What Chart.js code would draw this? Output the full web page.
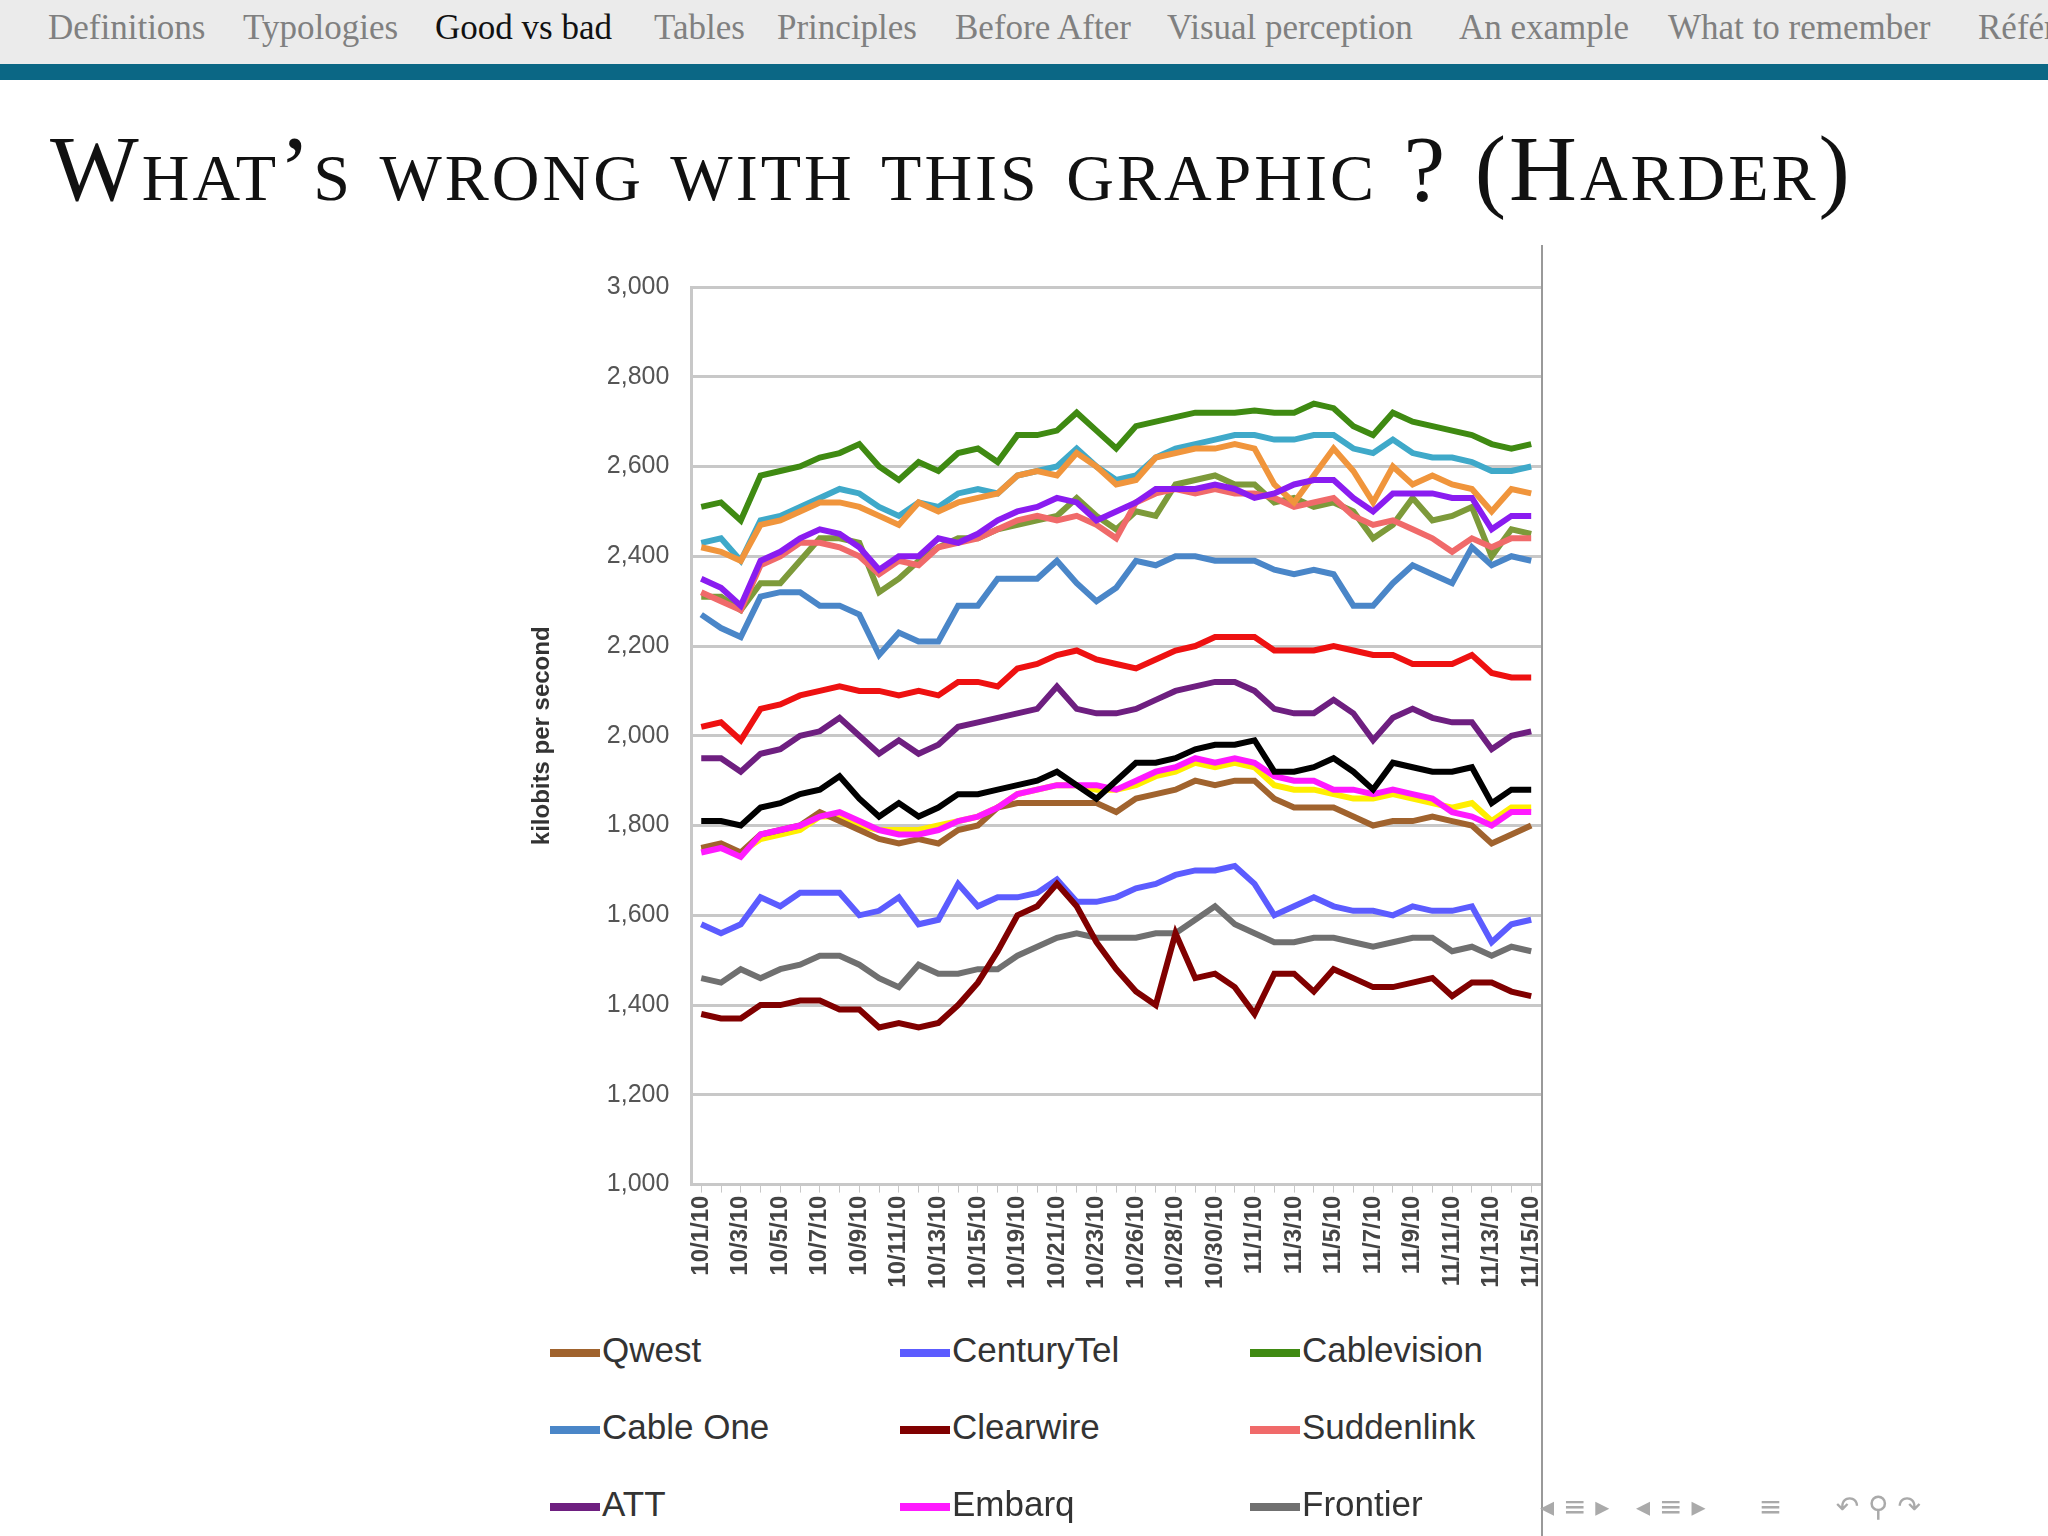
<!DOCTYPE html>
<html>
<head>
<meta charset="utf-8">
<script src="https://cdn.jsdelivr.net/npm/chart.js@4"></script>
<style>
  body { margin: 0; width: 2048px; height: 1536px; background: #fff; overflow: hidden; position: relative; font-family: "DejaVu Serif", serif; }
  #nav { position: absolute; left: 0; top: 0; width: 2048px; height: 64px; background: #ebebeb; white-space: nowrap; }
  #nav span { position: absolute; top: 8px; font-family: "Liberation Serif", serif; font-size: 35px; color: #808080; }
  #nav span.cur { color: #111; }
  #bar { position: absolute; left: 0; top: 64px; width: 2048px; height: 16px; background: #0b6785; }
  #title { position: absolute; left: 50px; top: 114px; font-family: "Liberation Serif", serif; font-size: 94px; font-variant: small-caps; color: #111; letter-spacing: 3px; }
  #wrap { position: absolute; left: 500px; top: 250px; width: 1063px; height: 1042px; }
  #vline { position: absolute; left: 1541px; top: 245px; width: 2px; height: 1291px; background: #999; }
  #legend { position: absolute; left: 550px; top: 1330px; width: 1000px; }
  .li { position: absolute; font-family: "Liberation Sans", sans-serif; font-size: 35px; color: #333; }
  .li i { display: inline-block; width: 50px; height: 8px; vertical-align: middle; margin-right: 2px; }
  #icons { position: absolute; left: 1540px; top: 1490px; font-size: 28px; color: #aaa; font-family: "DejaVu Sans"; }
</style>
</head>
<body>
<div id="nav">
  <span style="left:48px">Definitions</span>
  <span style="left:243px">Typologies</span>
  <span class="cur" style="left:435px">Good vs bad</span>
  <span style="left:654px">Tables</span>
  <span style="left:777px">Principles</span>
  <span style="left:955px">Before After</span>
  <span style="left:1167px">Visual perception</span>
  <span style="left:1459px">An example</span>
  <span style="left:1668px">What to remember</span>
  <span style="left:1978px">Références</span>
</div>
<div id="bar"></div>
<div id="title">What’s wrong with this graphic ? (Harder)</div>
<div id="wrap"><canvas id="c"></canvas></div>
<div id="vline"></div>
<div id="legend"></div>
<div id="icons">◂ ≡ ▸ &nbsp; ◂ ≡ ▸ &nbsp;&nbsp;&nbsp;&nbsp; ≡ &nbsp;&nbsp;&nbsp;&nbsp; ↶ ⚲ ↷</div>
<script>
const dates = ["10/1/10","10/2/10","10/3/10","10/4/10","10/5/10","10/6/10","10/7/10","10/8/10","10/9/10","10/10/10",
  "10/11/10","10/12/10","10/13/10","10/14/10","10/15/10","10/18/10","10/19/10","10/20/10","10/21/10","10/22/10",
  "10/23/10","10/25/10","10/26/10","10/27/10","10/28/10","10/29/10","10/30/10","10/31/10","11/1/10","11/2/10",
  "11/3/10","11/4/10","11/5/10","11/6/10","11/7/10","11/8/10","11/9/10","11/10/10","11/11/10","11/12/10",
  "11/13/10","11/14/10","11/15/10"];

const cablevision = [2510,2520,2480,2580,2590,2600,2620,2630,2650,2600,2570,2610,2590,2630,2640,2610,2670,2670,2680,2720,2680,2640,2690,2700,2710,2720,2720,2720,2725,2720,2720,2740,2730,2690,2670,2720,2700,2690,2680,2670,2650,2640,2650];
const tealSeries = [2430,2440,2390,2480,2490,2510,2530,2550,2540,2510,2490,2520,2510,2540,2550,2540,2580,2590,2600,2640,2600,2570,2580,2620,2640,2650,2660,2670,2670,2660,2660,2670,2670,2640,2630,2660,2630,2620,2620,2610,2590,2590,2600];
const orangeSeries = [2420,2410,2390,2470,2480,2500,2520,2520,2510,2490,2470,2520,2500,2520,2530,2540,2580,2590,2580,2630,2600,2560,2570,2620,2630,2640,2640,2650,2640,2560,2520,2580,2640,2590,2520,2600,2560,2580,2560,2550,2500,2550,2540];
const violetSeries = [2350,2330,2290,2390,2410,2440,2460,2450,2420,2370,2400,2400,2440,2430,2450,2480,2500,2510,2530,2520,2480,2500,2520,2550,2550,2550,2560,2550,2530,2540,2560,2570,2570,2530,2500,2540,2540,2540,2530,2530,2460,2490,2490];
const suddenlink = [2320,2300,2280,2380,2400,2430,2430,2420,2400,2360,2390,2380,2420,2430,2440,2460,2480,2490,2480,2490,2470,2440,2520,2540,2550,2540,2550,2540,2540,2530,2510,2520,2530,2490,2470,2480,2460,2440,2410,2440,2420,2440,2440];
const oliveSeries = [2310,2310,2280,2340,2340,2390,2440,2440,2430,2320,2350,2390,2420,2440,2440,2460,2470,2480,2490,2530,2490,2460,2500,2490,2560,2570,2580,2560,2560,2520,2530,2510,2520,2500,2440,2470,2530,2480,2490,2510,2400,2460,2450];
const cableOne = [2270,2240,2220,2310,2320,2320,2290,2290,2270,2180,2230,2210,2210,2290,2290,2350,2350,2350,2390,2340,2300,2330,2390,2380,2400,2400,2390,2390,2390,2370,2360,2370,2360,2290,2290,2340,2380,2360,2340,2420,2380,2400,2390];
const redSeries = [2020,2030,1990,2060,2070,2090,2100,2110,2100,2100,2090,2100,2090,2120,2120,2110,2150,2160,2180,2190,2170,2160,2150,2170,2190,2200,2220,2220,2220,2190,2190,2190,2200,2190,2180,2180,2160,2160,2160,2180,2140,2130,2130];
const att = [1950,1950,1920,1960,1970,2000,2010,2040,2000,1960,1990,1960,1980,2020,2030,2040,2050,2060,2110,2060,2050,2050,2060,2080,2100,2110,2120,2120,2100,2060,2050,2050,2080,2050,1990,2040,2060,2040,2030,2030,1970,2000,2010];
const blackSeries = [1810,1810,1800,1840,1850,1870,1880,1910,1860,1820,1850,1820,1840,1870,1870,1880,1890,1900,1920,1890,1860,1900,1940,1940,1950,1970,1980,1980,1990,1920,1920,1930,1950,1920,1880,1940,1930,1920,1920,1930,1850,1880,1880];
const yellowSeries = [1750,1750,1740,1770,1780,1790,1820,1820,1800,1790,1790,1790,1800,1810,1820,1840,1870,1880,1890,1890,1880,1880,1890,1910,1920,1940,1930,1940,1930,1890,1880,1880,1870,1860,1860,1870,1860,1850,1840,1850,1810,1840,1840];
const embarq = [1740,1750,1730,1780,1790,1800,1820,1830,1810,1790,1780,1780,1790,1810,1820,1840,1870,1880,1890,1890,1890,1880,1900,1920,1930,1950,1940,1950,1940,1910,1900,1900,1880,1880,1870,1880,1870,1860,1830,1820,1800,1830,1830];
const qwest = [1750,1760,1740,1780,1790,1800,1830,1810,1790,1770,1760,1770,1760,1790,1800,1840,1850,1850,1850,1850,1850,1830,1860,1870,1880,1900,1890,1900,1900,1860,1840,1840,1840,1820,1800,1810,1810,1820,1810,1800,1760,1780,1800];
const centuryTel = [1580,1560,1580,1640,1620,1650,1650,1650,1600,1610,1640,1580,1590,1670,1620,1640,1640,1650,1680,1630,1630,1640,1660,1670,1690,1700,1700,1710,1670,1600,1620,1640,1620,1610,1610,1600,1620,1610,1610,1620,1540,1580,1590];
const frontier = [1460,1450,1480,1460,1480,1490,1510,1510,1490,1460,1440,1490,1470,1470,1480,1480,1510,1530,1550,1560,1550,1550,1550,1560,1560,1590,1620,1580,1560,1540,1540,1550,1550,1540,1530,1540,1550,1550,1520,1530,1510,1530,1520];
const clearwire = [1380,1370,1370,1400,1400,1410,1410,1390,1390,1350,1360,1350,1360,1400,1450,1520,1600,1620,1670,1620,1540,1480,1430,1400,1560,1460,1470,1440,1380,1470,1470,1430,1480,1460,1440,1440,1450,1460,1420,1450,1450,1430,1420];

const series = [
  { label: "Qwest", data: qwest, color: "#a0632e", legend: true },
  { label: "CenturyTel", data: centuryTel, color: "#5c5cff", legend: true },
  { label: "Cablevision", data: cablevision, color: "#3f8a12", legend: true },
  { label: "Cable One", data: cableOne, color: "#4a86c8", legend: true },
  { label: "Clearwire", data: clearwire, color: "#800000", legend: true },
  { label: "Suddenlink", data: suddenlink, color: "#f06a6a", legend: true },
  { label: "ATT", data: att, color: "#6e1f80", legend: true },
  { label: "Embarq", data: embarq, color: "#ff1aff", legend: true },
  { label: "Frontier", data: frontier, color: "#707070", legend: true },
  { label: "Other 1", data: tealSeries, color: "#3fa9c9" },
  { label: "Other 2", data: orangeSeries, color: "#f0953c" },
  { label: "Other 3", data: oliveSeries, color: "#7d9a3a" },
  { label: "Other 4", data: yellowSeries, color: "#ffee00" },
  { label: "Other 5", data: redSeries, color: "#ee1111" },
  { label: "Other 6", data: blackSeries, color: "#000000" },
  { label: "Other 7", data: violetSeries, color: "#8a1cf0" },
];
// draw order: yellow under magenta/brown like the original
const drawOrder = ["Other 4","Qwest","Embarq","Other 3","Suddenlink","Other 1","Other 2","Cablevision","Other 7","Cable One","Other 5","ATT","Other 6","CenturyTel","Frontier","Clearwire"];

const chart = new Chart(document.getElementById("c"), {
  type: "line",
  data: {
    labels: dates,
    datasets: series.map(s => ({
      label: s.label, data: s.data, borderColor: s.color, backgroundColor: s.color,
      borderWidth: 6, pointRadius: 0, tension: 0, order: -drawOrder.indexOf(s.label),
    })),
  },
  options: {
    responsive: true, maintainAspectRatio: false, animation: false,
    layout: { padding: { top: 10, right: 0 } },
    plugins: { legend: { display: false }, tooltip: { enabled: false } },
    scales: {
      y: {
        min: 1000, max: 3000,
        ticks: { stepSize: 200, color: "#555", font: { family: "Liberation Sans", size: 25 }, padding: 22,
          callback: v => v.toLocaleString("en-US") },
        grid: { color: "#c8c8c8", lineWidth: 3, drawTicks: false },
        border: { color: "#c8c8c8", width: 3 },
        title: { display: true, text: "kilobits per second", color: "#333", font: { family: "Liberation Sans", size: 24, weight: "bold" }, padding: 28 },
      },
      x: {
        offset: true,
        ticks: { autoSkip: false, maxRotation: 90, minRotation: 90, color: "#444",
          font: { family: "Liberation Sans", size: 24, weight: "bold" },
          callback: function (v, i) { return i % 2 === 0 ? this.getLabelForValue(v) : ""; } },
        grid: { display: true, drawOnChartArea: false, color: "#c8c8c8", tickLength: 8 },
        border: { color: "#c8c8c8", width: 3 },
      },
    },
  },
});

// legend grid built from the chart's own datasets
const leg = document.getElementById("legend");
chart.data.datasets.filter((d, i) => series[i].legend).forEach((d, k) => {
  const el = document.createElement("div");
  el.className = "li";
  el.style.left = (k % 3) * 350 + "px";
  el.style.top = Math.floor(k / 3) * 77 + "px";
  el.innerHTML = '<i style="background:' + d.borderColor + '"></i>' + d.label;
  leg.appendChild(el);
});
</script>
</body>
</html>
